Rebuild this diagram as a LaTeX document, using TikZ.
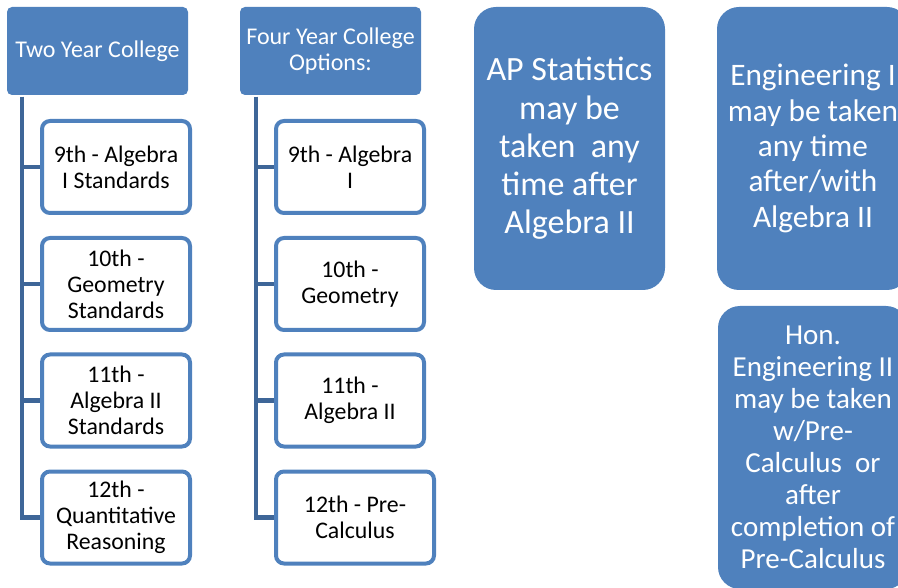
\documentclass[tikz,border=0pt]{standalone}
\usepackage{fontspec}
\setmainfont{Carlito}
\definecolor{accent}{RGB}{79,129,189}
\definecolor{linkc}{RGB}{62,102,152}
\begin{document}
\begin{tikzpicture}[x=1pt,y=-1pt,
  head/.style={fill=accent, rounded corners=5pt, minimum width=181pt, minimum height=88pt,
    text=white, inner sep=0pt, align=center, font=\fontsize{24}{26}\selectfont},
  child/.style={draw=accent, line width=4pt, fill=white, rounded corners=8pt,
    minimum width=148pt, minimum height=92pt, inner sep=0pt, align=center,
    text=black, font=\fontsize{23.8}{26}\selectfont},
  big/.style={fill=accent, rounded corners=22pt, text=white, inner sep=0pt, align=center},
  link/.style={draw=linkc, line width=4.5pt}
]
\useasboundingbox (0,0) rectangle (898,588);
\clip (0,0) rectangle (898,588);

% left column
\node[head] (h1) at (97.5,51) {Two Year College};
\node[child] (a1) at (116,167) {9th - Algebra\\I Standards};
\node[child] (a2) at (116,284) {10th -\\Geometry\\Standards};
\node[child] (a3) at (116,400.5) {11th -\\Algebra II\\Standards};
\node[child] (a4) at (116,517.5) {12th -\\Quantitative\\Reasoning};
\coordinate (t1) at (22,97);
\draw[link] (t1) |- (a4.west);
\draw[link] (t1) |- (a1.west);
\draw[link] (t1) |- (a2.west);
\draw[link] (t1) |- (a3.west);

% right column
\node[head] (h2) at (330.5,51) {Four Year College\\Options:};
\node[child] (b1) at (350,167) {9th - Algebra\\I};
\node[child] (b2) at (350,284) {10th -\\Geometry};
\node[child] (b3) at (350,400.5) {11th -\\Algebra II};
\node[child, minimum width=158pt] (b4) at (355,517.5) {12th - Pre-\\Calculus};
\coordinate (t2) at (256,97);
\draw[link] (t2) |- (b4.west);
\draw[link] (t2) |- (b1.west);
\draw[link] (t2) |- (b2.west);
\draw[link] (t2) |- (b3.west);

% big boxes
\node[big, minimum width=191pt, minimum height=283pt, font=\fontsize{34}{38.2}\selectfont]
  (ap) at (569.5,148.5) {AP Statistics\\may be\\taken\ \ any\\time after\\Algebra II};
\node[big, minimum width=192pt, minimum height=283pt, font=\fontsize{31.3}{35.3}\selectfont]
  (eng) at (813,148.5) {Engineering I\\may be taken\\any time\\after/with\\Algebra II};
\node[big, minimum width=190pt, minimum height=283pt, font=\fontsize{29}{32}\selectfont]
  (hon) at (813,447.5) {Hon.\\Engineering II\\may be taken\\w/Pre-\\Calculus\ \ or\\after\\completion of\\Pre-Calculus};
\end{tikzpicture}
\end{document}
